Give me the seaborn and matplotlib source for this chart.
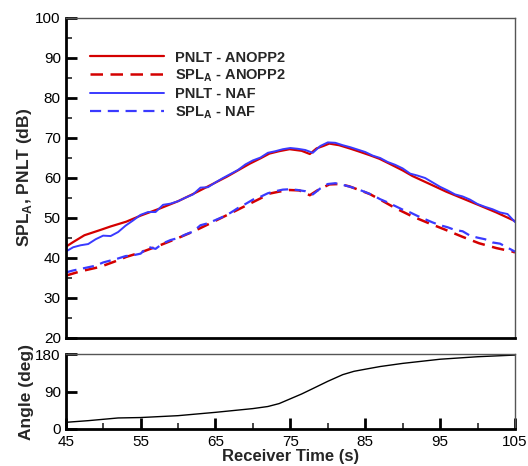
import numpy as np
import pandas as pd
import matplotlib
matplotlib.use('Agg')
import matplotlib.pyplot as plt
from matplotlib.ticker import MultipleLocator
import seaborn as sns

# ─── Datos ──────────────────────────────────────────────────────────────────
t_pnlt_anopp = [45, 46, 47.5, 49.6, 51, 53.1, 55, 57.6, 60, 62, 64, 66.5, 68,
                69.6, 71, 72.2, 73.5, 74.9, 76.5, 77.6, 78.5, 79.4, 80.2, 81.5,
                82.9, 84.2, 85.6, 86.9, 88.2, 90, 91.3, 93.5, 95.8, 98, 100.2,
                102.5, 104.7, 105]
pnlt_anopp = [42.7, 43.9, 45.6, 46.9, 47.8, 49.0, 50.5, 52.3, 54.1, 55.9, 57.8,
              60.2, 61.8, 63.5, 64.8, 66.0, 66.6, 67.1, 66.7, 65.9, 67.3, 67.9,
              68.5, 68.1, 67.3, 66.5, 65.6, 64.7, 63.5, 61.8, 60.4, 58.5, 56.5,
              54.8, 53.1, 51.3, 49.4, 49.1]

t_spla_anopp = [45, 47, 49.6, 51.5, 53.1, 55, 57.6, 60, 62, 64, 66.5, 68, 69.6,
                71, 72.2, 73.5, 74.9, 76.2, 77.6, 78.6, 80.2, 81.5, 82.9, 84.2,
                85.6, 87, 89, 91.3, 93.5, 95.8, 98, 100.2, 102.5, 104.7, 105]
spla_anopp = [35.5, 36.6, 37.7, 39.0, 40.2, 41.3, 43.1, 44.9, 46.5, 48.3, 50.6,
              52.0, 53.5, 54.8, 56.0, 56.5, 56.9, 56.8, 55.6, 56.8, 58.3, 58.4,
              57.8, 56.9, 55.9, 54.5, 52.4, 50.3, 48.6, 46.9, 45.2, 43.6, 42.4,
              41.5, 41.3]

t_naf = list(range(45, 106))
pnlt_naf = [41.5, 42.6, 43.1, 43.4, 44.6, 45.5, 45.4, 46.4, 48.0, 49.3, 50.7,
            51.4, 51.4, 53.2, 53.5, 54.1, 55.0, 55.8, 57.5, 57.6, 58.8, 59.9,
            60.9, 61.9, 63.3, 64.3, 65.0, 66.2, 66.6, 67.1, 67.4, 67.2, 66.9,
            66.2, 67.9, 68.8, 68.7, 68.1, 67.6, 67.0, 66.4, 65.5, 64.9, 63.9,
            63.2, 62.3, 61.0, 60.5, 59.9, 58.8, 57.7, 56.8, 55.8, 55.3, 54.5,
            53.4, 52.7, 52.1, 51.3, 50.9, 48.9]
spla_naf = [36.3, 36.8, 37.2, 37.6, 38.0, 38.8, 39.3, 39.8, 40.4, 40.6, 41.0,
            42.7, 42.2, 43.6, 44.4, 44.9, 45.8, 46.5, 48.1, 48.6, 49.4, 50.2,
            51.2, 52.4, 53.4, 54.5, 55.2, 56.1, 56.6, 57.0, 57.1, 56.9, 56.6,
            55.8, 57.3, 58.4, 58.6, 58.2, 57.7, 57.1, 56.4, 55.6, 54.6, 53.8,
            52.9, 52.0, 51.3, 50.4, 49.6, 48.8, 48.1, 47.6, 46.9, 46.6, 45.5,
            45.0, 44.6, 43.8, 43.5, 42.5, 41.5]

t_angle = [45, 48, 52, 55, 60, 65, 70, 72, 73.5, 75, 76.5, 78, 80, 82, 83.5,
           85, 87, 90, 95, 100, 105]
angle = [16, 20, 26.5, 27.5, 32, 40, 49, 54, 61, 72.5, 84, 97, 114.5, 130.5,
         138.5, 143.5, 150, 157.5, 167.5, 173.5, 177.5]

RED = '#d40000'
BLUE = '#3a3aff'

sns.set_style('ticks')
plt.rcParams['font.family'] = ['Liberation Sans', 'DejaVu Sans']
plt.rcParams['mathtext.fontset'] = 'custom'
plt.rcParams['mathtext.rm'] = 'Liberation Sans'
plt.rcParams['mathtext.bf'] = 'Liberation Sans:bold'

fig = plt.figure(figsize=(5.28, 4.66), dpi=100)
ax = fig.add_axes([0.1244, 0.2753, 0.8510, 0.6871])
ax2 = fig.add_axes([0.1244, 0.0794, 0.8510, 0.1609])

sns.lineplot(x=t_pnlt_anopp, y=pnlt_anopp, ax=ax, color=RED, lw=1.6,
             label='PNLT - ANOPP2')
sns.lineplot(x=t_spla_anopp, y=spla_anopp, ax=ax, color=RED, lw=1.8,
             dashes=(5, 3), label=r'SPL$_\mathbf{A}$ - ANOPP2')
sns.lineplot(x=t_naf, y=pnlt_naf, ax=ax, color=BLUE, lw=1.4,
             label='PNLT - NAF')
sns.lineplot(x=t_naf, y=spla_naf, ax=ax, color=BLUE, lw=1.6,
             dashes=(5, 3), label=r'SPL$_\mathbf{A}$ - NAF')

sns.lineplot(x=t_angle, y=angle, ax=ax2, color='black', lw=1.0)

for a in (ax, ax2):
    a.set_xlim(45, 105)
    for s in ('top', 'right'):
        a.spines[s].set_color('#555555')
        a.spines[s].set_linewidth(1.0)
    for s in ('left', 'bottom'):
        a.spines[s].set_linewidth(2.0)
        a.spines[s].set_color('black')
    a.tick_params(direction='in', which='major', length=8, width=2,
                  labelsize=11, colors='black')
    a.tick_params(direction='in', which='minor', length=4.5, width=1.2)

ax.set_ylim(20, 100)
ax.yaxis.set_major_locator(MultipleLocator(10))
ax.yaxis.set_minor_locator(MultipleLocator(5))
ax.set_xticks([])
ax.set_ylabel(r'SPL$_\mathbf{A}$, PNLT (dB)', fontsize=12.5, fontweight='bold',
              labelpad=1)

ax2.set_ylim(0, 180)
ax2.set_yticks([0, 90, 180])
ax2.set_xticks(np.arange(45, 106, 10))
ax2.xaxis.set_minor_locator(MultipleLocator(5))
ax2.set_xlabel('Receiver Time (s)', fontsize=12, fontweight='bold', labelpad=0)
ax2.set_ylabel('Angle (deg)', fontsize=12.5, fontweight='bold', labelpad=1)
ax2.tick_params(axis='x', pad=4)

ax.legend(loc='upper left', bbox_to_anchor=(0.041, 0.915), frameon=False,
          prop={'weight': 'bold', 'size': 10.5}, handlelength=5.1,
          handletextpad=0.7, labelspacing=0.2, borderaxespad=0)

fig.savefig('out.png', dpi=100)
